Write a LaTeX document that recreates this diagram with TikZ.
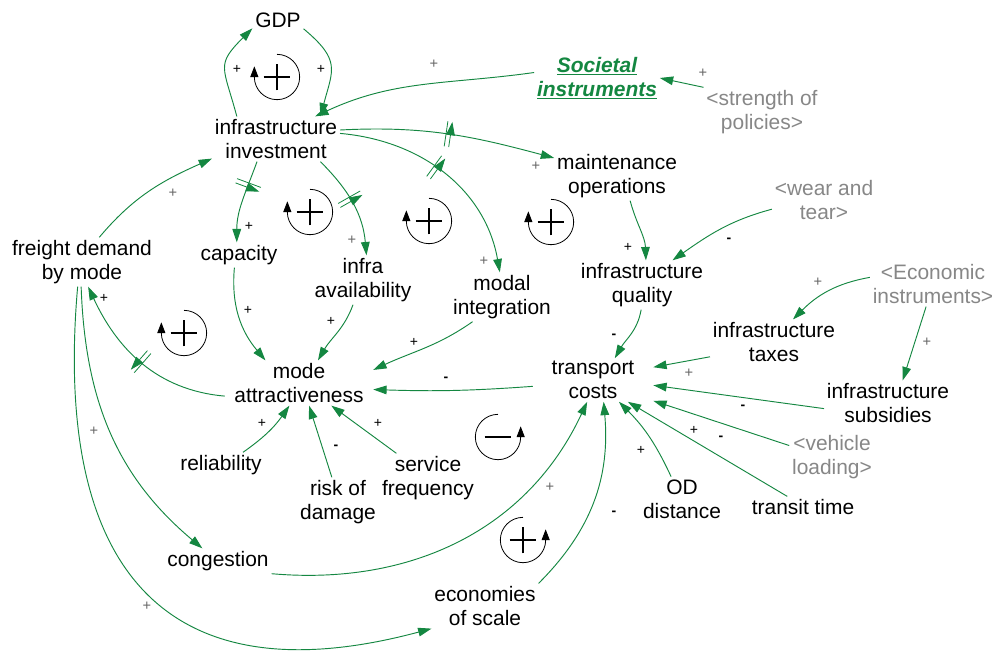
\documentclass[tikz,border=0pt]{standalone}
\usepackage{fontspec}
\setmainfont{Liberation Sans}
\usetikzlibrary{arrows.meta,decorations.markings}
\definecolor{lk}{RGB}{20,135,65}
\definecolor{gr}{RGB}{135,135,135}
\tikzset{
 v/.style={align=center, inner sep=2pt, font=\fontsize{15.7}{18}\selectfont},
 sh/.style={v, text=gr},
 lnk/.style={draw=lk, line width=0.7pt, -{Triangle[length=10pt,width=6.5pt]}},
 pol/.style={font=\fontsize{10.5}{12}\selectfont, inner sep=0pt},
 polg/.style={font=\fontsize{11}{12}\selectfont, inner sep=0pt, text=black!60},
 delaymk/.style={postaction={decorate, decoration={markings, mark=at position #1 with {\draw[lk, line width=0.6pt] (-1.7pt,-9.5pt)--(-1.7pt,9.5pt) (1.7pt,-9.5pt)--(1.7pt,9.5pt);}}}},
 loopc/.style={black, line width=0.6pt},
 looptip/.style={black, line width=0.6pt, -{Triangle[length=8pt,width=6pt]}},
}
\newcommand\mylpL[2]{%
 \draw[loopc] (#1) ++(0pt,17pt) arc[start angle=90, end angle=-180, radius=17pt];
 \draw[looptip] (#1) ++(-17pt,-1pt) -- ++(0,9pt);
 \draw[line width=1.1pt] (#1) ++(-10pt,0) -- ++(20pt,0);
 \ifnum#2=1 \draw[line width=1.1pt] (#1) ++(0,-10pt) -- ++(0,20pt);\fi}
\newcommand\mylpR[2]{%
 \draw[loopc] (#1) ++(0pt,17pt) arc[start angle=90, end angle=360, radius=17pt];
 \draw[looptip] (#1) ++(17pt,-1pt) -- ++(0,9pt);
 \draw[line width=1.1pt] (#1) ++(-10pt,0) -- ++(20pt,0);
 \ifnum#2=1 \draw[line width=1.1pt] (#1) ++(0,-10pt) -- ++(0,20pt);\fi}
\begin{document}
\begin{tikzpicture}[x=0.75pt,y=-0.75pt]
\fill[white] (0,0) rectangle (995,658);
\useasboundingbox (0,0) rectangle (995,658);
% nodes
\node[v] (gdp) at (278,20) {GDP};
\node[v] (inv) at (276,139) {infrastructure\\investment};
\node[v, text=lk, font=\fontsize{15.7}{18}\selectfont\bfseries\itshape] (soc) at (597,78) {\underline{Societal}\\\underline{instruments}};
\node[sh] (str) at (762,112) {<strength of\\policies>};
\node[v] (mnt) at (617,176) {maintenance\\operations};
\node[sh] (wear) at (824,200) {<wear and\\tear>};
\node[v] (fr) at (82,262) {freight demand\\by mode};
\node[v] (cap) at (239,255) {capacity};
\node[v] (avl) at (363,280) {infra\\availability};
\node[v] (mdi) at (502,297) {modal\\integration};
\node[v] (qual) at (642,285) {infrastructure\\quality};
\node[sh] (eco) at (933,284) {<Economic\\instruments>};
\node[v] (tax) at (774,342) {infrastructure\\taxes};
\node[v, minimum width=111pt] (mode) at (299,383) {mode\\attractiveness};
\node[v, minimum width=90pt] (tc) at (593,380) {transport\\costs};
\node[v] (sub) at (888,403) {infrastructure\\subsidies};
\node[sh] (veh) at (832,457) {<vehicle\\loading>};
\node[v] (rel) at (221,465) {reliability};
\node[v] (risk) at (338,502) {risk of\\damage};
\node[v] (serv) at (428,478) {service\\frequency};
\node[v] (od) at (682,499) {OD\\distance};
\node[v] (tt) at (803,507) {transit time};
\node[v] (cong) at (218,561) {congestion};
\node[v] (eos) at (485,606) {economies\\of scale};
% loops
\mylpL{277,77}{1}
\mylpL{310,212}{1}
\mylpL{429,221}{1}
\mylpL{551,222}{1}
\mylpL{184,333}{1}
\mylpR{498,437}{0}
\mylpR{523,540}{1}
% connectors
\draw[lnk] (inv.150) to[out=105,in=225,looseness=1.5] (gdp.-162);
\draw[lnk] (gdp.-19) to[out=-40,in=75,looseness=1.4] (inv.27);
\draw[lnk] (soc.175) to[out=188,in=25] (inv.30);
\draw[lnk] (str.north west) -- (soc.east);
\draw[lnk, delaymk=0.5] (inv.8) to[out=3,in=165] (mnt.164);
\draw[lnk, delaymk=0.45] (inv.5) to[out=-5,in=100] (mdi.95);
\draw[lnk, delaymk=0.45] (inv.-27) to[out=-45,in=95] (avl.82);
\draw[lnk, delaymk=0.3] (inv.-130) to[out=-110,in=90] (cap.100);
\draw[lnk] (fr.55) to[out=50,in=204] (inv.-163);
\draw[lnk] (cap.-110) to[out=-95,in=130] (mode.146);
\draw[lnk] (avl.-112) to[out=-110,in=60] (mode.50);
\draw[lnk] (mdi.-140) to[out=-145,in=25] (mode.10);
\draw[lnk] (tc.-174) to[bend left=3] (mode.-5);
\draw[lnk, delaymk=0.5] (mode.-170) to[out=175,in=-65] (fr.-76);
\draw[lnk] (rel.30) to[out=35,in=-125] (mode.-113);
\draw[lnk] (risk.104) -- (mode.-66);
\draw[lnk] (serv.142) -- (mode.-35);
\draw[lnk] (qual.-92) to[out=-100,in=60] (tc.45);
\draw[lnk] (mnt.-62) to[out=-75,in=92] (qual.81);
\draw[lnk] (wear.-170) to[out=195,in=35] (qual.39);
\draw[lnk] (eco.174) to[out=190,in=45] (tax.50);
\draw[lnk] (eco.-107) -- (sub.57);
\draw[lnk] (tax.-167) -- (tc.12);
\draw[lnk] (sub.-175) -- (tc.-5);
\draw[lnk] (veh.165) -- (tc.-19);
\draw[lnk] (tt.146) -- (tc.-32);
\draw[lnk] (od.116) to[bend right=10] (tc.-40);
\draw[lnk] (eos.north east) to[out=45,in=-85] (tc.-64);
\draw[lnk] (cong.south east) to[out=-5,in=-115] (tc.-105);
\draw[lnk] (fr.-92) to[out=-88,in=140] (cong.141);
\draw[lnk] (fr.-100) to[out=-95,in=195,looseness=1.45] (eos.south west);
% polarity signs
\node[pol] (s1) at (237,69) {+};
\node[pol] (s2) at (321,69) {+};
\node[pol] (s3) at (249,226) {+};
\node[pol] (s4) at (248,310) {+};
\node[pol] (s5) at (331,321) {+};
\node[pol] (s6) at (414,342) {+};
\node[pol] (s7) at (104,298) {+};
\node[pol] (s8) at (262,423) {+};
\node[pol] (s9) at (378,423) {+};
\node[pol] (s10) at (628,247) {+};
\node[pol] (s11) at (694,430) {+};
\node[pol] (s12) at (641,450) {+};
\node[polg] (g1) at (434,64) {+};
\node[polg] (g2) at (703,73) {+};
\node[polg] (g3) at (536,166) {+};
\node[polg] (g4) at (173,193) {+};
\node[polg] (g5) at (352,240) {+};
\node[polg] (g6) at (484,261) {+};
\node[polg] (g7) at (818,282) {+};
\node[polg] (g8) at (927,342) {+};
\node[polg] (g9) at (689,373) {+};
\node[polg] (g10) at (94,431) {+};
\node[polg] (g11) at (147,606) {+};
\node[polg] (g12) at (550,487) {+};
\node[pol] (m1) at (446,379) {\textbf{-}};
\node[pol] (m2) at (336,447) {\textbf{-}};
\node[pol] (m3) at (614,336) {\textbf{-}};
\node[pol] (m4) at (729,240) {\textbf{-}};
\node[pol] (m5) at (743,407) {\textbf{-}};
\node[pol] (m6) at (721,438) {\textbf{-}};
\node[pol] (m7) at (614,513) {\textbf{-}};
\end{tikzpicture}
\end{document}
